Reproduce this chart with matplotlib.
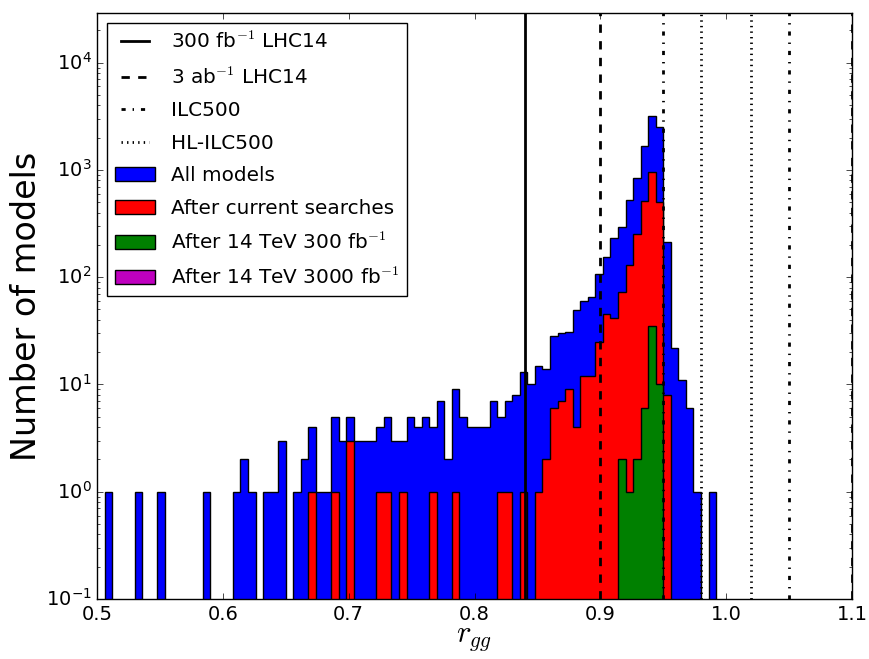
import numpy as np
import matplotlib
matplotlib.use("Agg")
import matplotlib.pyplot as plt
from matplotlib.lines import Line2D
from matplotlib.patches import Patch

plt.style.use("classic")
plt.rcParams["figure.facecolor"] = "white"
plt.rcParams["savefig.facecolor"] = "white"
plt.rcParams["xtick.labelsize"] = 14
plt.rcParams["ytick.labelsize"] = 14

# Histogram binning in r_gg: 100 bins of width 0.006 from 0.5 to 1.1
r_min, r_max, n_bins = 0.5, 1.1, 100

# Number of models per bin
all_models = [
    0, 1, 0, 0, 0, 1, 0, 0, 1, 0,
    0, 0, 0, 0, 1, 0, 0, 0, 1, 2,
    1, 0, 1, 1, 3, 0, 1, 2, 4, 1,
    1, 5, 3, 5, 3, 3, 3, 4, 5, 3,
    3, 5, 4, 5, 4, 7, 2, 9, 5, 4,
    4, 4, 7, 5, 7, 8, 13, 10, 15, 14,
    28, 30, 31, 49, 60, 66, 106, 155, 233, 295,
    520, 848, 1667, 3150, 2520, 214, 22, 11, 6, 1,
    0, 1, 0, 0, 0, 0, 0, 0, 0, 0,
    0, 0, 0, 0, 0, 0, 0, 0, 0, 0,
]
after_current = [
    0, 0, 0, 0, 0, 0, 0, 0, 0, 0,
    0, 0, 0, 0, 0, 0, 0, 0, 0, 0,
    0, 0, 0, 0, 0, 0, 0, 0, 1, 0,
    0, 1, 0, 3, 0, 0, 0, 1, 1, 0,
    1, 0, 0, 0, 1, 0, 0, 1, 0, 0,
    0, 0, 0, 1, 1, 0, 1, 0, 1, 2,
    6, 7, 9, 4, 12, 12, 25, 45, 42, 72,
    130, 255, 510, 960, 500, 8, 0, 0, 0, 0,
    0, 0, 0, 0, 0, 0, 0, 0, 0, 0,
    0, 0, 0, 0, 0, 0, 0, 0, 0, 0,
]
after_14tev_300 = [
    0, 0, 0, 0, 0, 0, 0, 0, 0, 0,
    0, 0, 0, 0, 0, 0, 0, 0, 0, 0,
    0, 0, 0, 0, 0, 0, 0, 0, 0, 0,
    0, 0, 0, 0, 0, 0, 0, 0, 0, 0,
    0, 0, 0, 0, 0, 0, 0, 0, 0, 0,
    0, 0, 0, 0, 0, 0, 0, 0, 0, 0,
    0, 0, 0, 0, 0, 0, 0, 0, 0, 2,
    1, 2, 6, 35, 10, 0, 0, 0, 0, 0,
    0, 0, 0, 0, 0, 0, 0, 0, 0, 0,
    0, 0, 0, 0, 0, 0, 0, 0, 0, 0,
]
after_14tev_3000 = [0] * n_bins

# Projected precision on r_gg (deviation from the SM value of 1)
precisions = [0.16, 0.10, 0.05, 0.02]
precision_labels = [r"300 fb$^{-1}$ LHC14", r"3 ab$^{-1}$ LHC14", "ILC500", "HL-ILC500"]
precision_styles = ["-", "--", "-.", ":"]

series = [all_models, after_current, after_14tev_300, after_14tev_3000]
series_labels = ["All models", "After current searches",
                 r"After 14 TeV 300 fb$^{-1}$", r"After 14 TeV 3000 fb$^{-1}$"]
series_colors = ["b", "r", "g", "m"]

edges = np.linspace(r_min, r_max, n_bins + 1)
centers = 0.5 * (edges[:-1] + edges[1:])

fig = plt.figure(figsize=(8.69, 6.59), dpi=100)
ax = fig.add_axes([97 / 869, 1 - 599 / 659, 755 / 869, 586 / 659])

for counts, color in zip(series, series_colors):
    ax.hist(centers, bins=edges, weights=counts, histtype="stepfilled",
            color=color, edgecolor="k", linewidth=1.0, log=True)

for dev, ls in zip(precisions, precision_styles):
    for x in (1 - dev, 1 + dev):
        ax.axvline(x, color="k", linestyle=ls, linewidth=2)

ax.set_xlim(0.5, 1.1)
ax.set_ylim(0.1, 2.9e4)
ax.set_xlabel(r"$r_{gg}$", fontsize=22, labelpad=0)
ax.set_ylabel("Number of models", fontsize=24, labelpad=2)

handles = [Line2D([], [], color="k", linestyle=ls, linewidth=2) for ls in precision_styles]
handles += [Patch(facecolor=c, edgecolor="k") for c in series_colors]
ax.legend(handles, precision_labels + series_labels, loc="upper left",
          labelspacing=0.68)

fig.savefig("out.png", dpi=100)
